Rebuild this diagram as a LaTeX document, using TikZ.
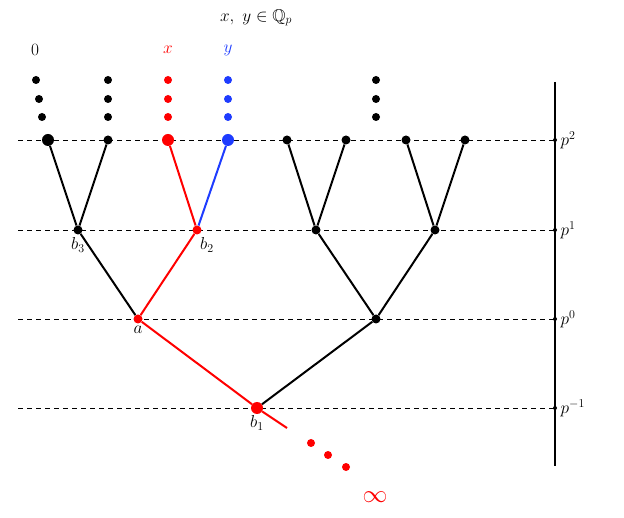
\documentclass[tikz,border=0pt]{standalone}
\usepackage{amssymb}
\begin{document}
\begin{tikzpicture}[x=1pt,y=-1pt,line join=bevel,
  every node/.style={font=\fontsize{17}{20}\selectfont},
  vtx/.style={circle,fill,inner sep=0pt,minimum size=9pt},
  bigvtx/.style={circle,fill,inner sep=0pt,minimum size=12pt},
  dotv/.style={circle,fill,inner sep=0pt,minimum size=8pt},
  edge/.style={line width=2pt}]
  \useasboundingbox (0,0) rectangle (624,518);
  \definecolor{myblue}{RGB}{30,60,255}
  % levels
  \foreach \yy/\lab in {140/2,230/1,319/0,408/-1}
    \draw[dashed,line width=0.8pt,dash pattern=on 5pt off 4pt] (18,\yy) -- (555,\yy) node[right=2pt] {$p^{\lab}$};
  \foreach \yy in {140,230,319,408}
    \fill (555,\yy) circle (2pt);
  \draw[line width=1.6pt] (555,82) -- (555,466);
  % nodes
  \node[bigvtx] (l1) at (48,140) {};
  \node[vtx] (l2) at (108,140) {};
  \node[bigvtx,red] (l3) at (168,140) {};
  \node[bigvtx,myblue] (l4) at (228,140) {};
  \node[vtx] (l5) at (287,140) {};
  \node[vtx] (l6) at (346,140) {};
  \node[vtx] (l7) at (406,140) {};
  \node[vtx] (l8) at (465,140) {};
  \node[vtx] (m1) at (78,230) {};
  \node[vtx,red] (m2) at (197,230) {};
  \node[vtx] (m3) at (316,230) {};
  \node[vtx] (m4) at (435,230) {};
  \node[vtx,red] (a) at (138,319) {};
  \node[vtx] (n2) at (376,319) {};
  \node[bigvtx,red] (b1) at (257,408) {};
  \coordinate (tail) at (287,428);
  % edges
  \draw[edge] (l1) -- (m1) -- (l2);
  \draw[edge,red] (l3) -- (m2);
  \draw[edge,myblue] (l4) -- (m2);
  \draw[edge] (l5) -- (m3) -- (l6);
  \draw[edge] (l7) -- (m4) -- (l8);
  \draw[edge] (m1) -- (a);
  \draw[edge,red] (m2) -- (a) -- (b1) -- (tail);
  \draw[edge] (m3) -- (n2) -- (m4);
  \draw[edge] (n2) -- (b1);
  % labels
  \node[anchor=north] at (78,234) {$b_3$};
  \node[anchor=north] at (207,234) {$b_2$};
  \node[anchor=north] at (138,323) {$a$};
  \node[anchor=north] at (257,412) {$b_1$};
  % dots
  \foreach \xx/\yy in {36/80,39/99,42/117,108/80,108/99,108/117,376/80,376/99,376/117}
    \node[dotv] at (\xx,\yy) {};
  \foreach \yy in {80,99,117} {
    \node[dotv,red] at (168,\yy) {};
    \node[dotv,myblue] at (228,\yy) {};
  }
  \foreach \xx/\yy in {311/443,328/455,346/467}
    \node[dotv,red] at (\xx,\yy) {};
  \node at (35,50) {$0$};
  \node[red] at (168,50) {$x$};
  \node[myblue] at (228,50) {$y$};
  \node at (256,18) {$x,\ y\in\mathbb{Q}_p$};
  \node[red,font=\fontsize{24}{26}\selectfont] at (375,497) {$\infty$};
\end{tikzpicture}
\end{document}
